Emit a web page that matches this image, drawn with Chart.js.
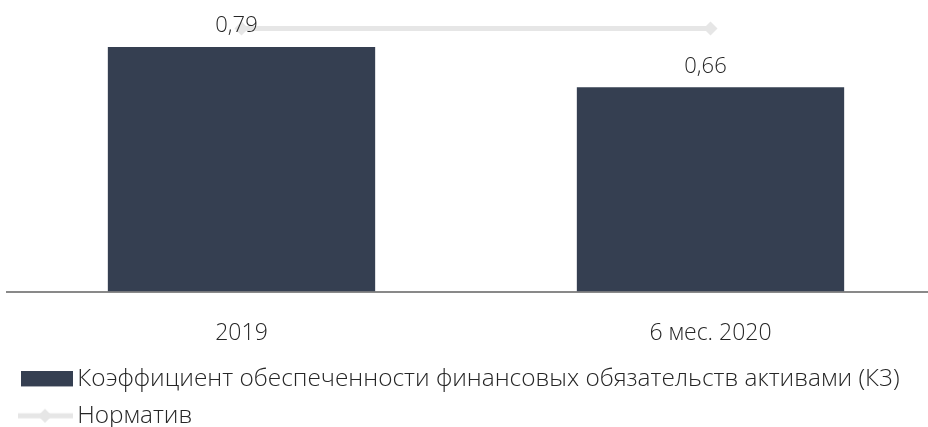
<!DOCTYPE html>
<html>
<head>
<meta charset="utf-8">
<script src="https://cdn.jsdelivr.net/npm/chart.js@4.4.1/dist/chart.umd.min.js"></script>
<style>
  html, body { margin: 0; padding: 0; background: #fff; overflow: hidden; }
  #wrap { width: 945px; height: 438px; }
</style>
</head>
<body>
<div id="wrap"><canvas id="myChart"></canvas></div>
<script>
const categories = ['2019', '6 мес. 2020'];
const coverageValues = [0.79, 0.66];
const normValues = [0.85, 0.85];
const seriesNames = ['Коэффициент обеспеченности финансовых обязательств активами (К3)', 'Норматив'];

const barColor = '#353f51';
const normColor = '#e6e6e6';
const textColor = '#262626';
const fontFamily = "'Open Sans', 'Noto Sans', sans-serif";

// legend symbols drawn on small canvases (left 10px kept empty to shift the symbol)
function makeBarSymbol() {
    const c = document.createElement('canvas');
    c.width = 62; c.height = 16;
    const g = c.getContext('2d');
    g.fillStyle = barColor;
    g.fillRect(10, 0, 52, 15);
    return c;
}
function makeLineSymbol() {
    const c = document.createElement('canvas');
    c.width = 62; c.height = 16;
    const g = c.getContext('2d');
    g.strokeStyle = normColor;
    g.lineWidth = 5;
    g.beginPath();
    g.moveTo(7, 8);
    g.lineTo(62, 8);
    g.stroke();
    g.fillStyle = normColor;
    g.beginPath();
    g.moveTo(34, 1); g.lineTo(41, 8); g.lineTo(34, 15); g.lineTo(27, 8);
    g.closePath();
    g.fill();
    return c;
}
const symbols = [makeBarSymbol(), makeLineSymbol()];

// value labels above bars
const barLabels = {
    id: 'barLabels',
    afterDatasetsDraw(chart) {
        const ctx = chart.ctx;
        const meta = chart.getDatasetMeta(0);
        ctx.save();
        ctx.font = "300 22px " + fontFamily;
        ctx.fillStyle = textColor;
        ctx.textAlign = 'center';
        ctx.textBaseline = 'middle';
        meta.data.forEach((bar, i) => {
            const txt = coverageValues[i].toFixed(2).replace('.', ',');
            ctx.fillText(txt, bar.x - 5, bar.y - 21);
        });
        ctx.restore();
    }
};

const ctx = document.getElementById('myChart').getContext('2d');
const myChart = new Chart(ctx, {
    data: {
        labels: categories,
        datasets: [{
            type: 'bar',
            label: seriesNames[0],
            data: coverageValues,
            backgroundColor: barColor,
            categoryPercentage: 1,
            barPercentage: 0.57,
            order: 2
        }, {
            type: 'line',
            label: seriesNames[1],
            data: normValues,
            borderColor: normColor,
            backgroundColor: normColor,
            borderWidth: 5,
            pointStyle: 'rectRot',
            pointRadius: 7,
            pointBorderWidth: 0,
            fill: false,
            order: 1
        }]
    },
    options: {
        responsive: true,
        maintainAspectRatio: false,
        animation: false,
        layout: { autoPadding: false, padding: { left: 7, right: 0, top: 13, bottom: 0 } },
        plugins: {
            tooltip: { enabled: false },
            legend: {
                position: 'bottom',
                align: 'start',
                labels: {
                    usePointStyle: true,
                    pointStyleWidth: 46,
                    padding: 12,
                    color: textColor,
                    font: { family: fontFamily, size: 24.4, weight: '300' },
                    generateLabels: function(chart) {
                        return chart.data.datasets.map((ds, i) => ({
                            text: ds.label,
                            pointStyle: symbols[i],
                            fillStyle: 'transparent',
                            strokeStyle: 'transparent',
                            lineWidth: 0,
                            fontColor: textColor,
                            datasetIndex: i
                        }));
                    }
                }
            }
        },
        scales: {
            x: {
                grid: { display: false, drawTicks: false },
                border: { color: '#898989', width: 2 },
                ticks: {
                    color: textColor,
                    padding: 28,
                    font: { family: fontFamily, size: 23, weight: '300' }
                },
                afterFit: function(scale) {
                    scale.height -= 20;
                }
            },
            y: {
                display: false,
                min: 0,
                max: 0.9
            }
        }
    },
    plugins: [barLabels]
});
</script>
</body>
</html>
